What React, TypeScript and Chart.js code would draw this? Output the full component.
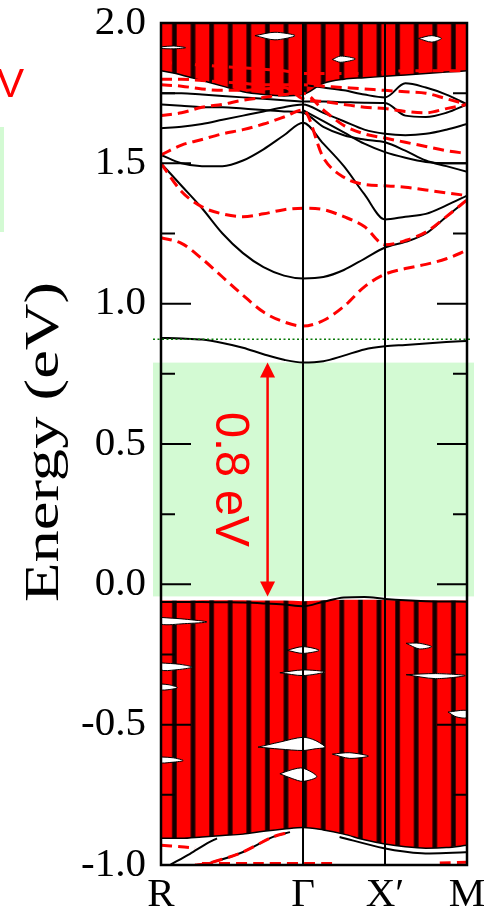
import React, { useEffect, useRef } from 'react';
import { Chart, registerables } from 'chart.js';

Chart.register(...registerables);

// ---- k-path ----
const K_POINTS = [0, 1.732, 2.732, 3.732];
const K_LABELS = ['R', 'Γ', 'X′', 'M'];
const K_GRID = [0, 0.25, 0.5, 0.75, 1.0, 1.25, 1.5, 1.732, 1.98, 2.23, 2.48, 2.732, 2.98, 3.23, 3.48, 3.732];

// ---- energy axis ----
const E_MIN = -1;
const E_MAX = 2;
const E_STEP = 0.5;
const Y_MAJOR = [-0.5, 0, 0.5, 1.0, 1.5];
const Y_MINOR = [-0.75, -0.25, 0.25, 0.75, 1.25, 1.75];

// ---- gap annotation ----
const GAP_K = 1.3;
const GAP_TOP = 0.79;
const GAP_BOTTOM = -0.043;
const GAP_LABEL = '0.8 eV';
const CBM_LEVEL = 0.873;
const Y_TITLE = 'Energy (eV)';

// ---- conduction bands, black solid (E at K_GRID) ----
const black1 = [0.878, 0.876, 0.872, 0.86, 0.843, 0.82, 0.8, 0.79, 0.795, 0.815, 0.837, 0.848, 0.853, 0.858, 0.863, 0.867];
const black2 = [1.5, 1.42, 1.34, 1.25, 1.18, 1.13, 1.1, 1.09, 1.095, 1.12, 1.16, 1.2, 1.22, 1.25, 1.31, 1.37];
const black3 = [1.53, 1.5, 1.49, 1.49, 1.51, 1.55, 1.6, 1.645, 1.57, 1.49, 1.39, 1.3, 1.31, 1.32, 1.35, 1.385];
const black4 = [1.625, 1.63, 1.64, 1.655, 1.67, 1.685, 1.7, 1.71, 1.68, 1.65, 1.62, 1.605, 1.6, 1.605, 1.62, 1.64];
const black5 = [1.75, 1.75, 1.745, 1.74, 1.735, 1.73, 1.725, 1.72, 1.72, 1.718, 1.716, 1.715, 1.67, 1.665, 1.68, 1.71];
const black6 = [null, null, null, null, null, null, null, 1.78, 1.77, 1.76, 1.745, 1.735, 1.785, 1.77, 1.745, 1.71];
const black7 = [1.71, 1.705, 1.7, 1.7, 1.695, 1.69, 1.685, 1.68, 1.63, 1.6, 1.585, 1.575, 1.545, 1.51, 1.49, 1.47];
const black8 = [null, null, null, null, null, null, null, 1.69, 1.65, 1.61, 1.57, 1.54, 1.52, 1.505, 1.5, 1.5];
const valenceEdge = [-0.063, -0.063, -0.063, -0.064, -0.065, -0.068, -0.072, -0.078, -0.062, -0.047, -0.045, -0.052, -0.057, -0.06, -0.061, -0.062];

// ---- conduction bands, red dashed ----
const red1 = [1.235, 1.215, 1.16, 1.095, 1.03, 0.97, 0.935, 0.92, 0.94, 0.99, 1.06, 1.105, 1.125, 1.14, 1.16, 1.19];
const red2 = [1.5, 1.4, 1.345, 1.32, 1.31, 1.32, 1.335, 1.34, 1.335, 1.31, 1.275, 1.21, 1.225, 1.255, 1.31, 1.37];
const red3 = [1.53, 1.565, 1.585, 1.605, 1.62, 1.64, 1.665, 1.69, 1.52, 1.45, 1.425, 1.42, 1.415, 1.405, 1.395, 1.385];
const red4 = [1.67, 1.68, 1.7, 1.71, 1.725, 1.735, 1.745, 1.75, 1.69, 1.635, 1.605, 1.59, 1.575, 1.56, 1.545, 1.535];
const red5 = [1.78, 1.775, 1.765, 1.76, 1.76, 1.765, 1.77, 1.73, 1.72, 1.71, 1.7, 1.695, 1.685, 1.68, 1.695, 1.71];
const red6 = [1.8, 1.8, 1.795, 1.79, 1.785, 1.78, 1.78, 1.78, 1.775, 1.77, 1.765, 1.76, 1.755, 1.75, 1.73, 1.71];
const red7 = [1.86, 1.855, 1.85, 1.845, 1.84, 1.835, 1.83, 1.82, 1.82, 1.82, 1.82, 1.825, 1.83, 1.83, 1.83, 1.83];

// ---- dense manifolds ----
const upperManifoldEdge = [1.83, 1.815, 1.795, 1.775, 1.755, 1.745, 1.74, 1.745, 1.785, 1.8, 1.805, 1.81, 1.815, 1.82, 1.825, 1.83];
const valenceTop = [-0.058, -0.058, -0.057, -0.057, -0.057, -0.058, -0.058, -0.06, -0.057, -0.055, -0.055, -0.056, -0.057, -0.057, -0.058, -0.058];
const valenceBottom = [-0.905, -0.905, -0.9, -0.895, -0.89, -0.88, -0.872, -0.866, -0.875, -0.89, -0.91, -0.925, -0.935, -0.94, -0.938, -0.93];

// ---- white gaps inside the dense manifolds ([k, E]) ----
const gapsValence = [
  [[1.183, -0.58], [1.45, -0.562], [1.732, -0.545], [1.88, -0.556], [2.0, -0.58], [1.88, -0.586], [1.732, -0.592], [1.45, -0.587], [1.183, -0.58]],
  [[1.45, -0.675], [1.6, -0.66], [1.732, -0.655], [1.9, -0.685], [1.732, -0.702], [1.6, -0.692], [1.45, -0.675]],
  [[1.537, -0.235], [1.732, -0.222], [1.927, -0.235], [1.732, -0.246], [1.537, -0.235]],
  [[0, -0.118], [0.29, -0.124], [0.56, -0.134], [0.29, -0.14], [0, -0.142], [0, -0.118]],
  [[0, -0.28], [0.23, -0.285], [0.38, -0.295], [0.17, -0.305], [0, -0.305], [0, -0.28]],
  [[0, -0.355], [0.1, -0.358], [0.2, -0.368], [0.1, -0.375], [0, -0.375], [0, -0.355]],
  [[1.45, -0.315], [1.732, -0.305], [2.0, -0.312], [1.732, -0.325], [1.45, -0.315]],
  [[2.99, -0.322], [3.35, -0.318], [3.71, -0.325], [3.35, -0.336], [2.99, -0.322]],
  [[2.09, -0.605], [2.3, -0.6], [2.53, -0.612], [2.3, -0.62], [2.09, -0.605]],
  [[3.5, -0.455], [3.732, -0.45], [3.732, -0.475], [3.6, -0.472], [3.5, -0.455]],
  [[0, -0.615], [0.15, -0.618], [0.27, -0.628], [0.1, -0.635], [0, -0.635], [0, -0.615]],
  [[2.99, -0.21], [3.15, -0.21], [3.3, -0.222], [3.15, -0.23], [2.99, -0.21]],
];
const gapsUpper = [
  [[1.146, 1.955], [1.39, 1.967], [1.634, 1.955], [1.39, 1.94], [1.146, 1.955]],
  [[2.09, 1.87], [2.19, 1.882], [2.37, 1.872], [2.19, 1.86], [2.09, 1.87]],
  [[3.14, 1.945], [3.3, 1.955], [3.42, 1.945], [3.3, 1.932], [3.14, 1.945]],
  [[0, 1.915], [0.15, 1.918], [0.3, 1.912], [0.15, 1.908], [0, 1.91], [0, 1.915]],
];

// ---- bands below the valence manifold ([k, E]) ----
const lowBlackA = [[0.11, -1.0], [0.354, -0.96], [0.561, -0.923], [0.683, -0.905]];
const lowBlackB = [[0.415, -1.0], [0.561, -0.995], [0.963, -0.958], [1.366, -0.9], [1.573, -0.883]];
const lowBlackC = [[2.178, -0.9], [2.72, -0.94], [3.18, -0.958], [3.71, -0.955], [3.732, -0.954]];
const lowRedA = [[0.415, -1.0], [0.561, -0.995], [0.963, -0.958], [1.366, -0.9], [1.573, -0.883]];
const lowRedB = [[0.5, -0.995], [1.2, -0.995], [2.1, -0.995]];
const lowRedC = [[3.4, -0.993], [3.732, -0.99]];
const lowRedD = [[0, -0.93], [0.244, -0.935], [0.415, -0.94]];

const SERIF = "'Liberation Serif', 'Times New Roman', Times, serif";
const SANS = "'Liberation Sans', Arial, Helvetica, sans-serif";

function onGrid(arr: (number | null)[]) {
  return arr.map((e, i) => ({ x: K_GRID[i], y: e }));
}
function pts(arr: number[][]) {
  return arr.map(([x, y]) => ({ x, y }));
}

function makeStripePattern(): CanvasPattern | string {
  const c = document.createElement('canvas');
  c.width = 93;
  c.height = 8;
  const g = c.getContext('2d');
  if (!g) return '#f00';
  g.fillStyle = '#ff0000';
  g.fillRect(0, 0, 93, 8);
  for (let i = 0; i < 5; i++) {
    const cx = 7 + 18.6 * i;
    g.fillStyle = '#5a0000';
    g.fillRect(cx - 2.6, 0, 5.2, 8);
    g.fillStyle = '#120000';
    g.fillRect(cx - 1.6, 0, 3.2, 8);
  }
  const p = g.createPattern(c, 'repeat');
  return p || '#f00';
}

const decorPlugin = {
  id: 'decor',
  beforeDatasetsDraw(chart: any) {
    const { ctx, chartArea: a, scales } = chart;
    const y = scales.y;
    const t = y.getPixelForValue(GAP_TOP);
    const b = y.getPixelForValue(GAP_BOTTOM);
    ctx.save();
    ctx.fillStyle = 'rgb(211,250,211)';
    ctx.fillRect(a.left - 8, t, a.right - a.left + 15, b - t);
    ctx.restore();
  },
  afterDatasetsDraw(chart: any) {
    const { ctx, chartArea: a, scales } = chart;
    const x = scales.x;
    const y = scales.y;
    ctx.save();
    // CBM dotted line
    const cy = y.getPixelForValue(CBM_LEVEL);
    ctx.strokeStyle = '#0a7a0a';
    ctx.lineWidth = 1.5;
    ctx.setLineDash([2, 2.5]);
    ctx.beginPath();
    ctx.moveTo(a.left - 8, cy);
    ctx.lineTo(a.right + 3, cy);
    ctx.stroke();
    ctx.setLineDash([]);

    // high-symmetry vertical lines
    ctx.strokeStyle = '#000';
    ctx.lineWidth = 2;
    K_POINTS.slice(1, -1).forEach((k) => {
      const px = x.getPixelForValue(k);
      ctx.beginPath();
      ctx.moveTo(px, a.top);
      ctx.lineTo(px, a.bottom);
      ctx.stroke();
    });

    // inward ticks
    const tick = (v: number, len: number) => {
      const py = y.getPixelForValue(v);
      ctx.beginPath();
      ctx.moveTo(a.left, py);
      ctx.lineTo(a.left + len, py);
      ctx.moveTo(a.right, py);
      ctx.lineTo(a.right - len, py);
      ctx.stroke();
    };
    Y_MAJOR.forEach((v) => tick(v, 30));
    Y_MINOR.forEach((v) => tick(v, 14));

    // frame
    ctx.lineWidth = 2.5;
    ctx.strokeRect(a.left, a.top, a.right - a.left, a.bottom - a.top);

    // gap arrow
    const ax = x.getPixelForValue(GAP_K);
    const at = y.getPixelForValue(GAP_TOP);
    const ab = y.getPixelForValue(GAP_BOTTOM);
    ctx.strokeStyle = '#ff0000';
    ctx.fillStyle = '#ff0000';
    ctx.lineWidth = 2.5;
    ctx.beginPath();
    ctx.moveTo(ax, at + 10);
    ctx.lineTo(ax, ab - 10);
    ctx.stroke();
    ctx.beginPath();
    ctx.moveTo(ax, at);
    ctx.lineTo(ax - 7.5, at + 15);
    ctx.lineTo(ax + 7.5, at + 15);
    ctx.closePath();
    ctx.fill();
    ctx.beginPath();
    ctx.moveTo(ax, ab);
    ctx.lineTo(ax - 7.5, ab - 15);
    ctx.lineTo(ax + 7.5, ab - 15);
    ctx.closePath();
    ctx.fill();

    // gap label (rotated clockwise)
    ctx.font = `48px ${SANS}`;
    const w = ctx.measureText(GAP_LABEL).width;
    const sx = 135 / w;
    const mid = (at + ab) / 2;
    ctx.translate(ax - 52, mid - 67.5);
    ctx.rotate(Math.PI / 2);
    ctx.scale(sx, 1);
    ctx.textAlign = 'left';
    ctx.textBaseline = 'alphabetic';
    ctx.fillText(GAP_LABEL, 0, 0);
    ctx.restore();
  },
  afterDraw(chart: any) {
    const { ctx } = chart;
    ctx.save();
    // y-axis title
    ctx.font = `56px ${SERIF}`;
    ctx.fillStyle = '#000';
    const w = ctx.measureText(Y_TITLE).width;
    ctx.translate(58, 602);
    ctx.rotate(-Math.PI / 2);
    ctx.scale(320 / w, 0.86);
    ctx.textAlign = 'left';
    ctx.textBaseline = 'alphabetic';
    ctx.fillText(Y_TITLE, 0, 0);
    ctx.restore();

    // remnants of neighbouring panel at left edge
    ctx.save();
    ctx.fillStyle = 'rgb(211,250,211)';
    ctx.fillRect(0, 127, 4, 105);
    ctx.fillStyle = '#ff0000';
    ctx.font = `41px ${SANS}`;
    ctx.textAlign = 'right';
    ctx.textBaseline = 'alphabetic';
    ctx.fillText('eV', 24, 97);
    ctx.restore();
  },
};

export default function App() {
  const ref = useRef<HTMLCanvasElement | null>(null);

  useEffect(() => {
    document.body.style.margin = '0';
    const canvas = ref.current;
    if (!canvas) return;
    const pattern = makeStripePattern();

    const blackLine = (arr: (number | null)[]) => ({
      data: onGrid(arr),
      borderColor: '#000',
      borderWidth: 2,
      fill: false,
      cubicInterpolationMode: 'monotone',
      order: 20,
    });
    const redLine = (arr: (number | null)[]) => ({
      data: onGrid(arr),
      borderColor: '#ff0000',
      borderWidth: 3,
      borderDash: [11, 6],
      fill: false,
      cubicInterpolationMode: 'monotone',
      order: 10,
    });
    const blackPts = (arr: number[][]) => ({
      data: pts(arr),
      borderColor: '#000',
      borderWidth: 2,
      fill: false,
      tension: 0.3,
      order: 20,
    });
    const redPts = (arr: number[][]) => ({
      data: pts(arr),
      borderColor: '#ff0000',
      borderWidth: 3,
      borderDash: [11, 6],
      fill: false,
      tension: 0.3,
      order: 10,
    });
    const gapShape = (arr: number[][]) => ({
      data: pts(arr),
      borderColor: '#000',
      borderWidth: 1,
      backgroundColor: '#ffffff',
      fill: 'shape',
      tension: 0.3,
      order: 25,
    });

    const datasets: any[] = [
      {
        data: onGrid(upperManifoldEdge),
        borderColor: '#000',
        borderWidth: 1.5,
        backgroundColor: pattern,
        fill: 'end',
        cubicInterpolationMode: 'monotone',
        order: 30,
      },
      {
        data: onGrid(valenceTop),
        borderColor: 'rgba(0,0,0,0)',
        borderWidth: 0,
        backgroundColor: pattern,
        fill: '+1',
        cubicInterpolationMode: 'monotone',
        order: 30,
      },
      {
        data: onGrid(valenceBottom),
        borderColor: '#000',
        borderWidth: 1.5,
        fill: false,
        cubicInterpolationMode: 'monotone',
        order: 29,
      },
      ...gapsValence.map(gapShape),
      ...gapsUpper.map(gapShape),
      ...[black1, black2, black3, black4, black5, black6, black7, black8, valenceEdge].map(blackLine),
      ...[red1, red2, red3, red4, red5, red6, red7].map(redLine),
      ...[lowBlackA, lowBlackB, lowBlackC].map(blackPts),
      ...[lowRedA, lowRedB, lowRedC, lowRedD].map(redPts),
    ];

    const tickFont = { family: SERIF, size: 41 };

    const chart = new Chart(canvas, {
      type: 'line',
      data: { datasets },
      options: {
        animation: false,
        responsive: false,
        devicePixelRatio: 1,
        layout: { padding: { top: 23, right: 24, left: 0, bottom: 0 } },
        elements: { point: { radius: 0, hoverRadius: 0 } },
        plugins: { legend: { display: false }, tooltip: { enabled: false } },
        events: [],
        scales: {
          x: {
            type: 'linear',
            min: K_POINTS[0],
            max: K_POINTS[K_POINTS.length - 1],
            grid: { display: false, drawTicks: false },
            border: { display: false },
            afterBuildTicks: (s: any) => {
              s.ticks = K_POINTS.map((v) => ({ value: v }));
            },
            afterFit: (s: any) => {
              s.height = 48;
              s.paddingLeft = 0;
              s.paddingRight = 0;
              s.paddingTop = 0;
              s.paddingBottom = 0;
            },
            ticks: {
              autoSkip: false,
              maxRotation: 0,
              color: '#000',
              font: tickFont,
              padding: 6,
              callback: (_v: any, i: number) => K_LABELS[i],
            },
          },
          y: {
            type: 'linear',
            min: E_MIN,
            max: E_MAX,
            grid: { display: false, drawTicks: false },
            border: { display: false },
            afterFit: (s: any) => {
              s.width = 161;
              s.paddingTop = 0;
              s.paddingBottom = 0;
              s.paddingLeft = 0;
              s.paddingRight = 0;
            },
            ticks: {
              stepSize: E_STEP,
              color: '#000',
              font: tickFont,
              padding: 15,
              callback: (v: any) => Number(v).toFixed(1),
            },
          },
        },
      } as any,
      plugins: [decorPlugin],
    });

    return () => chart.destroy();
  }, []);

  return (
    <div style={{ width: 491, height: 913, position: 'relative', background: '#fff' }}>
      <canvas ref={ref} width={491} height={913} style={{ display: 'block' }} />
    </div>
  );
}
